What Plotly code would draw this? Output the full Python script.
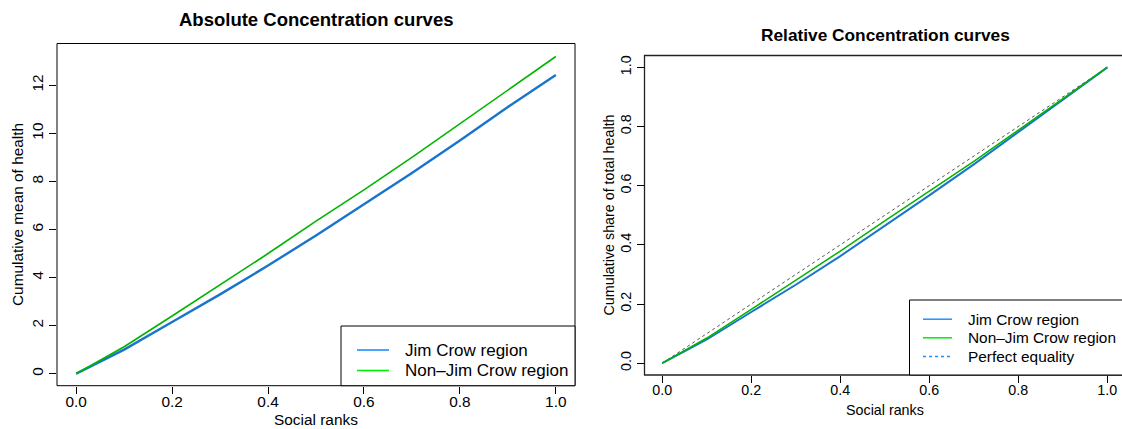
import plotly.graph_objects as go

# ---- data ----
ranks = [0.0, 0.1, 0.2, 0.3, 0.4, 0.5, 0.6, 0.7, 0.8, 0.9, 1.0]
abs_jim = [0.0, 1.0, 2.15, 3.3, 4.5, 5.75, 7.05, 8.35, 9.7, 11.1, 12.43]
abs_non = [0.0, 1.12, 2.4, 3.7, 5.0, 6.35, 7.65, 9.0, 10.4, 11.8, 13.2]
rel_jim = [0.0, 0.080, 0.173, 0.265, 0.362, 0.463, 0.567, 0.672, 0.781, 0.893, 1.0]
rel_non = [0.0, 0.085, 0.182, 0.280, 0.379, 0.481, 0.580, 0.682, 0.788, 0.894, 1.0]
equality_x = [0.0, 1.0]
equality_y = [0.0, 1.0]
x_ticks = [0.0, 0.2, 0.4, 0.6, 0.8, 1.0]
x_ticktext = ["0.0", "0.2", "0.4", "0.6", "0.8", "1.0"]
abs_y_ticks = [0, 2, 4, 6, 8, 10, 12]
rel_y_ticks = [0.0, 0.2, 0.4, 0.6, 0.8, 1.0]
rel_y_ticktext = ["0.0", "0.2", "0.4", "0.6", "0.8", "1.0"]
legend_abs = ["Jim Crow region", "Non\u2013Jim Crow region"]
legend_rel = ["Jim Crow region", "Non\u2013Jim Crow region", "Perfect equality"]

W, H = 1122, 429
FONT = "Liberation Sans, Arial, Helvetica, sans-serif"


def px(x):
    return x / W


def py(y):
    return 1 - y / H


BLUE = "#1874CD"
GREEN = "#00B400"
LEG_BLUE = "#1E90FF"
LEG_GREEN = "#00EE00"

fig = go.Figure()

# left panel
fig.add_trace(go.Scatter(x=ranks, y=abs_jim, mode="lines", line=dict(color=BLUE, width=2.4),
                         xaxis="x", yaxis="y", showlegend=False))
fig.add_trace(go.Scatter(x=ranks, y=abs_non, mode="lines", line=dict(color=GREEN, width=1.6),
                         xaxis="x", yaxis="y", showlegend=False))
# right panel
fig.add_trace(go.Scatter(x=equality_x, y=equality_y, mode="lines",
                         line=dict(color="#555555", width=1, dash="dot"),
                         xaxis="x2", yaxis="y2", showlegend=False))
fig.add_trace(go.Scatter(x=ranks, y=rel_jim, mode="lines", line=dict(color=BLUE, width=2.0),
                         xaxis="x2", yaxis="y2", showlegend=False))
fig.add_trace(go.Scatter(x=ranks, y=rel_non, mode="lines", line=dict(color=GREEN, width=1.5),
                         xaxis="x2", yaxis="y2", showlegend=False))

axis_common = dict(ticks="outside", ticklen=7, tickwidth=1, tickcolor="black",
                   showgrid=False, zeroline=False, showline=False,
                   tickfont=dict(family=FONT, color="black"))

fig.update_layout(
    width=W, height=H,
    margin=dict(l=0, r=0, t=0, b=0),
    paper_bgcolor="white", plot_bgcolor="white",
    showlegend=False,
    font=dict(family=FONT, color="black"),
    xaxis=dict(domain=[px(57), px(575)], range=[-0.04, 1.04], anchor="y",
               tickvals=x_ticks, ticktext=x_ticktext, ticklabelstandoff=-5, **axis_common),
    yaxis=dict(domain=[py(385.7), py(43.5)], range=[-0.5, 13.74], anchor="x",
               tickvals=abs_y_ticks, tickangle=-90, **axis_common),
    xaxis2=dict(domain=[px(644.5), 1.0], range=[-0.04, 1.033], anchor="y2",
                tickvals=x_ticks, ticktext=x_ticktext, ticklabelstandoff=-5, **axis_common),
    yaxis2=dict(domain=[py(375), py(55.5)], range=[-0.04, 1.04], anchor="x2",
                tickvals=rel_y_ticks, ticktext=rel_y_ticktext, tickangle=-90, **axis_common),
)
fig.layout.xaxis.tickfont.size = 15.4
fig.layout.yaxis.tickfont.size = 15.4
fig.layout.xaxis2.tickfont.size = 14.3
fig.layout.yaxis2.tickfont.size = 14.3

shapes = []
# plot boxes
shapes.append(dict(type="rect", xref="paper", yref="paper", x0=px(57), x1=px(575),
                   y0=py(385.7), y1=py(43.5), line=dict(color="black", width=1)))
shapes.append(dict(type="rect", xref="paper", yref="paper", x0=px(644.5), x1=px(1135),
                   y0=py(375), y1=py(55.5), line=dict(color="#222222", width=1.3)))
# legend boxes
shapes.append(dict(type="rect", xref="paper", yref="paper", x0=px(341), x1=px(575),
                   y0=py(385.7), y1=py(326), line=dict(color="black", width=1),
                   fillcolor="white", layer="above"))
shapes.append(dict(type="rect", xref="paper", yref="paper", x0=px(909.5), x1=px(1135),
                   y0=py(375), y1=py(300), line=dict(color="black", width=1),
                   fillcolor="white", layer="above"))

annotations = []
# left legend
for label, col, yy in zip(legend_abs, [LEG_BLUE, LEG_GREEN], [350, 370.5]):
    shapes.append(dict(type="line", xref="paper", yref="paper", x0=px(357), x1=px(389),
                       y0=py(yy), y1=py(yy), line=dict(color=col, width=1.6)))
    annotations.append(dict(text=label, xref="paper", yref="paper", x=px(403), y=py(yy),
                            xanchor="left", yanchor="middle", showarrow=False,
                            font=dict(size=17, family=FONT, color="black")))
# right legend
for label, col, dash, yy in zip(legend_rel, [LEG_BLUE, LEG_GREEN, LEG_BLUE],
                                ["solid", "solid", "dot"], [319.2, 337.8, 356.6]):
    shapes.append(dict(type="line", xref="paper", yref="paper", x0=px(923), x1=px(952),
                       y0=py(yy), y1=py(yy), line=dict(color=col, width=1.5, dash=dash)))
    annotations.append(dict(text=label, xref="paper", yref="paper", x=px(965.5), y=py(yy),
                            xanchor="left", yanchor="middle", showarrow=False,
                            font=dict(size=15.4, family=FONT, color="black")))

# titles
annotations += [
    dict(text="<b>Absolute Concentration curves</b>", x=px(316), y=py(20),
         font=dict(size=18.5)),
    dict(text="<b>Relative Concentration curves</b>", x=px(885.5), y=py(35),
         font=dict(size=17.3)),
    dict(text="Social ranks", x=px(315.5), y=py(419.5), font=dict(size=15.4)),
    dict(text="Social ranks", x=px(884.5), y=py(410), font=dict(size=14.3)),
    dict(text="Cumulative mean of health", x=px(17), y=py(215), textangle=-90,
         font=dict(size=15.4)),
    dict(text="Cumulative share of total health", x=px(608), y=py(215.5), textangle=-90,
         font=dict(size=14.3)),
]
for a in annotations[-6:]:
    a.update(xref="paper", yref="paper", xanchor="center", yanchor="middle", showarrow=False)
    a["font"].update(family=FONT, color="black")

fig.update_layout(shapes=shapes, annotations=annotations)
fig.write_html("out.html")
